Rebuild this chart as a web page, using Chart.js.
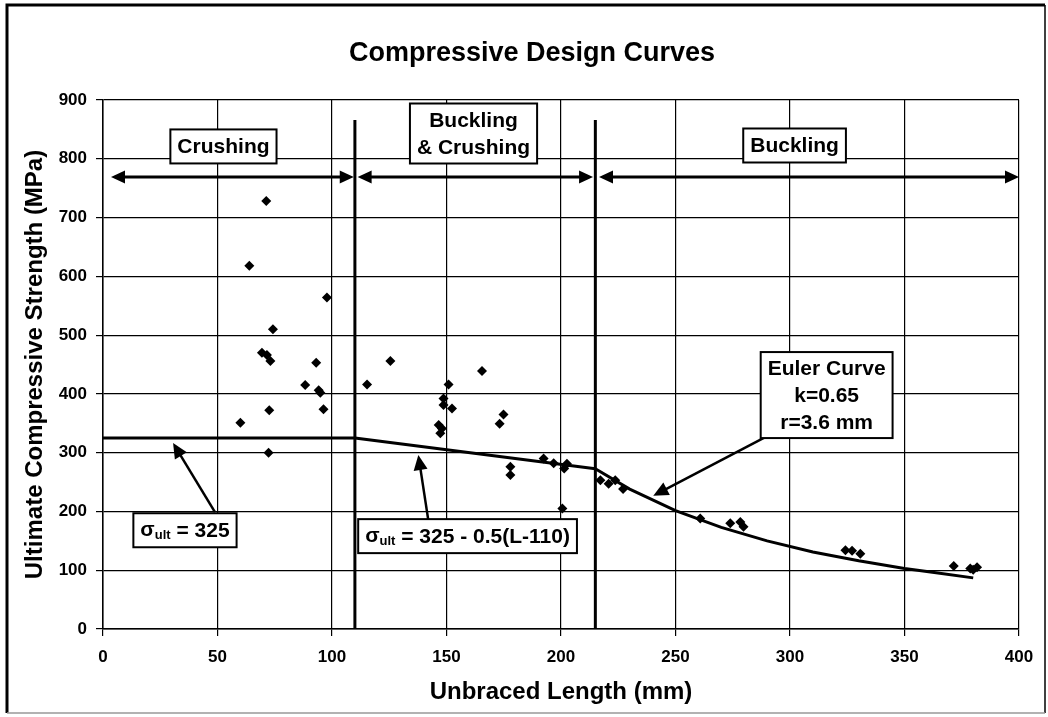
<!DOCTYPE html>
<html>
<head>
<meta charset="utf-8">
<title>Compressive Design Curves</title>
<script src="https://cdn.jsdelivr.net/npm/chart.js@4.4.1/dist/chart.umd.min.js"></script>
<style>
  body { margin: 0; background: #fff; }
  canvas { display: block; }
</style>
</head>
<body>
<canvas id="designChart" width="1048" height="717"></canvas>
<script>
// test specimens: unbraced length (mm) vs ultimate compressive strength (MPa)
const testLength = [60, 63.9, 69.4, 71.3, 71.6, 72.3, 72.6, 73.1, 74.2, 88.3, 93.1, 94.2, 94.9, 96.3, 97.8,
                    115.3, 125.5, 146.6, 147.3, 148, 148.7, 148.7, 150.9, 152.4, 165.5, 173.2, 174.9,
                    177.9, 177.9, 192.4, 196.8, 200.6, 201.4, 202.6,
                    217.2, 220.8, 223.7, 227.1, 260.8, 273.9, 278.3, 279.7, 324.2, 327.1, 330.7,
                    371.5, 378.7, 380, 381.7];
const testStrength = [351, 618, 470, 728, 466, 300, 372, 456, 510, 415, 453, 406, 402, 374, 564,
                      416, 456, 347, 333, 341, 381, 392, 416, 375, 439, 349, 365,
                      276, 262, 290, 282, 205, 273, 281,
                      253, 247, 253, 238, 188, 180, 182, 174, 134, 133, 128,
                      107, 103, 101, 105];

// design curves
const crushLength = [0, 110];
const crushStrength = [325, 325];
const mixedLength = [110, 215];
const mixedStrength = [325, 272.5];
const eulerLength = [215, 230, 250, 270, 290, 310, 330, 350, 363, 380];
const eulerStrength = [272.5, 238, 201.5, 173, 150, 131, 116, 103, 96, 87];

// region dividers
const regionBounds = [110, 215];
const boundTop = 866;

const xTickValues = [0, 50, 100, 150, 200, 250, 300, 350, 400];
const yTickValues = [0, 100, 200, 300, 400, 500, 600, 700, 800, 900];

const FONT = '"Liberation Sans", Arial, Helvetica, sans-serif';

function zip(xs, ys) {
    return xs.map(function(x, i) { return { x: x, y: ys[i] }; });
}

function arrowHead(ctx, tipX, tipY, fromX, fromY, len, half) {
    const ang = Math.atan2(tipY - fromY, tipX - fromX);
    ctx.save();
    ctx.translate(tipX, tipY);
    ctx.rotate(ang);
    ctx.beginPath();
    ctx.moveTo(0, 0);
    ctx.lineTo(-len, -half);
    ctx.lineTo(-len, half);
    ctx.closePath();
    ctx.fill();
    ctx.restore();
}

// region arrows at the top of the plot
const regionArrows = [
    { from: 3.5, to: 109.5 },
    { from: 111.2, to: 214 },
    { from: 216.6, to: 400 }
];
const regionArrowY = 769;

// text boxes (centre in data units)
const boxes = [
    { x: 52.6, y: 821, lines: ['Crushing'] },
    { x: 161.8, y: 843, lines: ['Buckling', '& Crushing'] },
    { x: 302, y: 822.6, lines: ['Buckling'] },
    { x: 316, y: 398, lines: ['Euler Curve', 'k=0.65', 'r=3.6 mm'] }
];
const sigmaBoxes = [
    { x: 35.8, y: 168, rest: ' = 325' },
    { x: 159.2, y: 158, rest: ' = 325 - 0.5(L-110)' }
];
const pointers = [
    { x1: 48.9, y1: 199, x2: 30.6, y2: 316.4 },
    { x1: 142, y1: 186.6, x2: 137.7, y2: 296 },
    { x1: 289, y1: 326, x2: 240.3, y2: 226.8 }
];

const overlayPlugin = {
    id: 'overlay',
    beforeDraw: function(chart) {
        const ctx = chart.ctx;
        ctx.save();
        ctx.fillStyle = '#fff';
        ctx.fillRect(0, 0, chart.width, chart.height);
        ctx.restore();
    },
    afterDatasetsDraw: function(chart) {
        const ctx = chart.ctx;
        const xs = chart.scales.x;
        const ys = chart.scales.y;
        const px = function(v) { return xs.getPixelForValue(v); };
        const py = function(v) { return ys.getPixelForValue(v); };

        ctx.save();
        ctx.strokeStyle = '#000';
        ctx.fillStyle = '#000';

        // double-headed region arrows
        ctx.lineWidth = 3;
        regionArrows.forEach(function(a) {
            const y = py(regionArrowY);
            const x1 = px(a.from), x2 = px(a.to);
            ctx.beginPath();
            ctx.moveTo(x1 + 8, y);
            ctx.lineTo(x2 - 8, y);
            ctx.stroke();
            arrowHead(ctx, x1, y, x2, y, 14, 6.5);
            arrowHead(ctx, x2, y, x1, y, 14, 6.5);
        });

        // pointer arrows
        ctx.lineWidth = 2.5;
        pointers.forEach(function(p) {
            const x1 = px(p.x1), y1 = py(p.y1), x2 = px(p.x2), y2 = py(p.y2);
            const ang = Math.atan2(y2 - y1, x2 - x1);
            ctx.beginPath();
            ctx.moveTo(x1, y1);
            ctx.lineTo(x2 - Math.cos(ang) * 10, y2 - Math.sin(ang) * 10);
            ctx.stroke();
            arrowHead(ctx, x2, y2, x1, y1, 15, 7);
        });

        // labelled boxes
        ctx.font = 'bold 21px ' + FONT;
        ctx.textAlign = 'center';
        ctx.textBaseline = 'middle';
        boxes.forEach(function(b) {
            const w = Math.max.apply(null, b.lines.map(function(t) { return ctx.measureText(t).width; })) + 14;
            const h = b.lines.length * 26 + 8;
            const cx = px(b.x), cy = py(b.y);
            ctx.fillStyle = '#fff';
            ctx.fillRect(cx - w / 2, cy - h / 2, w, h);
            ctx.lineWidth = 2;
            ctx.strokeRect(cx - w / 2, cy - h / 2, w, h);
            ctx.fillStyle = '#000';
            b.lines.forEach(function(t, i) {
                ctx.fillText(t, cx, cy - (b.lines.length - 1) * 13.5 + i * 27 + 1);
            });
        });

        // sigma_ult boxes
        sigmaBoxes.forEach(function(b) {
            ctx.font = 'bold 21px ' + FONT;
            const wSig = ctx.measureText('\u03c3').width;
            const wRest = ctx.measureText(b.rest).width;
            ctx.font = 'bold 13px ' + FONT;
            const wSub = ctx.measureText('ult').width;
            const w = wSig + wSub + wRest + 14;
            const h = 34;
            const cx = px(b.x), cy = py(b.y);
            ctx.fillStyle = '#fff';
            ctx.fillRect(cx - w / 2, cy - h / 2, w, h);
            ctx.lineWidth = 2;
            ctx.strokeRect(cx - w / 2, cy - h / 2, w, h);
            ctx.fillStyle = '#000';
            ctx.textAlign = 'left';
            let tx = cx - w / 2 + 7;
            ctx.font = 'bold 21px ' + FONT;
            ctx.fillText('\u03c3', tx, cy);
            tx += wSig;
            ctx.font = 'bold 13px ' + FONT;
            ctx.fillText('ult', tx, cy + 5);
            tx += wSub;
            ctx.font = 'bold 21px ' + FONT;
            ctx.fillText(b.rest, tx, cy + 1);
            ctx.textAlign = 'center';
        });

        // chart title
        ctx.font = 'bold 27px ' + FONT;
        ctx.fillText('Compressive Design Curves', 532, 54);

        // outer frame
        ctx.lineWidth = 3;
        ctx.beginPath();
        ctx.moveTo(7, 713);
        ctx.lineTo(7, 5);
        ctx.lineTo(1045, 5);
        ctx.stroke();
        ctx.lineWidth = 1.5;
        ctx.beginPath();
        ctx.moveTo(1045, 5);
        ctx.lineTo(1045, 713);
        ctx.stroke();
        ctx.strokeStyle = '#999';
        ctx.beginPath();
        ctx.moveTo(7, 713);
        ctx.lineTo(1045, 713);
        ctx.stroke();
        ctx.restore();
    }
};

const lineStyle = {
    showLine: true,
    borderColor: '#000',
    borderWidth: 3,
    pointRadius: 0,
    fill: false,
    tension: 0
};

const datasets = [
    {
        label: 'Test data',
        data: zip(testLength, testStrength),
        pointStyle: 'rectRot',
        pointRadius: 5,
        backgroundColor: '#000',
        borderColor: '#000',
        borderWidth: 0,
        showLine: false
    },
    Object.assign({ label: 'Crushing', data: zip(crushLength, crushStrength) }, lineStyle),
    Object.assign({ label: 'Buckling & Crushing', data: zip(mixedLength, mixedStrength) }, lineStyle),
    Object.assign({ label: 'Euler', data: zip(eulerLength, eulerStrength) }, lineStyle)
];
regionBounds.forEach(function(b) {
    datasets.push(Object.assign({ label: 'Boundary ' + b, data: [{ x: b, y: 0 }, { x: b, y: boundTop }] }, lineStyle));
});

new Chart(document.getElementById('designChart'), {
    type: 'scatter',
    data: { datasets: datasets },
    plugins: [overlayPlugin],
    options: {
        responsive: false,
        animation: false,
        layout: { padding: { left: 0, right: 29, top: 100, bottom: 0 } },
        plugins: {
            legend: { display: false },
            tooltip: { enabled: false },
            title: { display: false }
        },
        scales: {
            x: {
                type: 'linear',
                min: 0,
                max: 400,
                afterBuildTicks: function(scale) {
                    scale.ticks = xTickValues.map(function(v) { return { value: v }; });
                },
                afterFit: function(scale) { scale.height = 88; },
                grid: { color: '#000', lineWidth: 1.2, tickLength: 7 },
                border: { color: '#000', width: 1.5 },
                ticks: {
                    color: '#000',
                    padding: 11,
                    maxRotation: 0,
                    font: { family: FONT, size: 17, weight: 'bold' }
                },
                title: {
                    display: true,
                    text: 'Unbraced Length (mm)',
                    color: '#000',
                    font: { family: FONT, size: 24, weight: 'bold' },
                    padding: { top: 0, bottom: 10.6 }
                }
            },
            y: {
                type: 'linear',
                min: 0,
                max: 900,
                afterBuildTicks: function(scale) {
                    scale.ticks = yTickValues.map(function(v) { return { value: v }; });
                },
                afterFit: function(scale) { scale.width = 103; },
                grid: { color: '#000', lineWidth: 1.2, tickLength: 7 },
                border: { color: '#000', width: 1.5 },
                ticks: {
                    color: '#000',
                    padding: 9,
                    font: { family: FONT, size: 17, weight: 'bold' }
                },
                title: {
                    display: true,
                    text: 'Ultimate Compressive Strength (MPa)',
                    color: '#000',
                    font: { family: FONT, size: 24, weight: 'bold' },
                    padding: { top: 20.6, bottom: 0 }
                }
            }
        }
    }
});
</script>
</body>
</html>
